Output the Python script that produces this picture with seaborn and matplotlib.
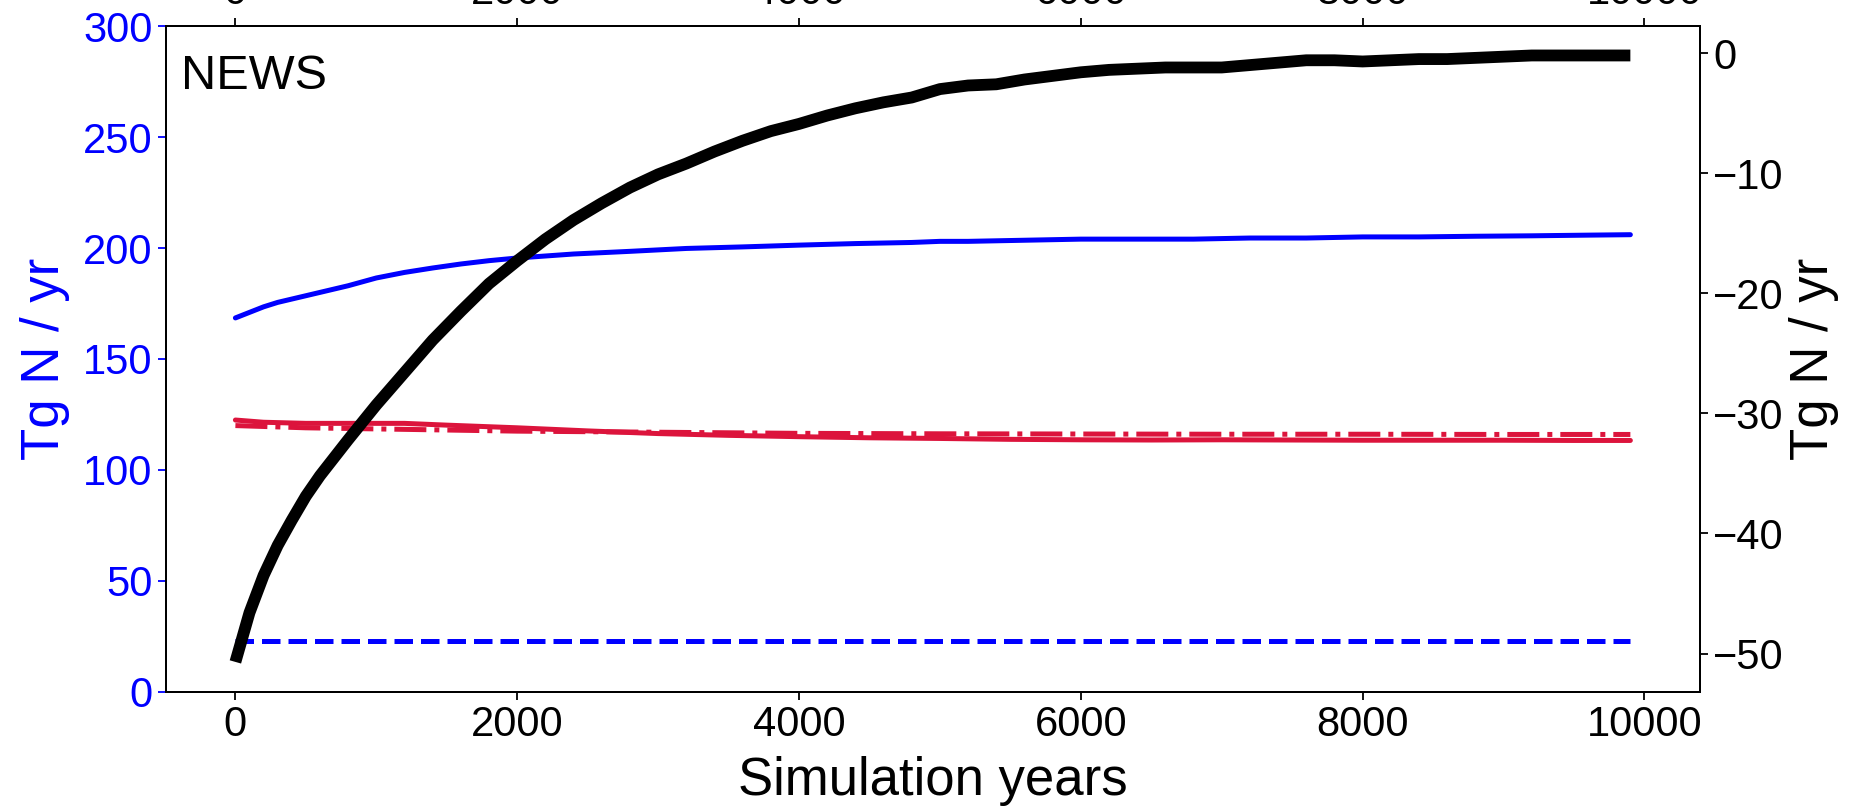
import matplotlib
matplotlib.use("Agg")
import matplotlib.pyplot as plt
import numpy as np
import pandas as pd
import seaborn as sns

# blue solid, left axis
blue_years = [0, 100, 200, 300, 400, 600, 800, 1000, 1200, 1400, 1600, 1800, 2000, 2400, 2800,
              3200, 3600, 4000, 4400, 4800, 5000, 5200, 5600, 6000, 6400, 6800, 7200, 7600,
              8000, 8400, 8800, 9200, 9600, 9900]
blue_vals = [168.5, 171, 173.5, 175.5, 177, 180, 183, 186.5, 189, 191, 192.8, 194.3, 195.5, 197.3, 198.5,
             199.8, 200.5, 201.3, 202, 202.5, 203, 203, 203.5, 204, 204, 204, 204.5, 204.5,
             205, 205, 205.3, 205.5, 205.8, 206]

# blue dashed, left axis
dash_years = [0, 9900]
dash_vals = [22.8, 22.8]

# red solid, left axis
red_years = [0, 200, 500, 1000, 1200, 1500, 2000, 2500, 3000, 3500, 4000, 4500, 5000, 5500,
             6000, 6500, 7000, 7500, 8000, 8500, 9000, 9500, 9900]
red_vals = [122.5, 121.5, 121, 121, 121, 120.2, 119, 117.6, 116.4, 115.6, 115, 114.5, 114.2, 113.8,
            113.6, 113.5, 113.6, 113.5, 113.4, 113.4, 113.4, 113.3, 113.3]

# red dash-dot, left axis
rdd_years = [0, 500, 1000, 2000, 3000, 4000, 5000, 6000, 7000, 8000, 9000, 9900]
rdd_vals = [120, 119, 118.5, 117.5, 117, 116.5, 116.3, 116.2, 116.1, 116.1, 116, 116]

# black thick, right axis
blk_years = [0, 100, 200, 300, 400, 500, 600, 800, 1000, 1200, 1400, 1600, 1800, 2000, 2200,
             2400, 2600, 2800, 3000, 3200, 3400, 3600, 3800, 4000, 4200, 4400, 4600, 4800,
             5000, 5200, 5400, 5600, 5800, 6000, 6200, 6400, 6600, 6800, 7000, 7200, 7400,
             7600, 7800, 8000, 8200, 8400, 8600, 8800, 9000, 9200, 9400, 9600, 9900]
blk_vals = [-50.7, -46.6, -43.5, -41.0, -38.9, -36.9, -35.2, -32.2, -29.3, -26.6, -23.9, -21.5,
            -19.2, -17.3, -15.5, -13.9, -12.5, -11.2, -10.1, -9.2, -8.2, -7.3, -6.5, -5.9,
            -5.2, -4.6, -4.1, -3.7, -3.0, -2.7, -2.6, -2.2, -1.9, -1.6, -1.4, -1.3, -1.2,
            -1.2, -1.2, -1.0, -0.8, -0.6, -0.6, -0.7, -0.6, -0.5, -0.5, -0.4, -0.3, -0.2,
            -0.2, -0.2, -0.2]

sns.set_theme(style="ticks", rc={'text.color': 'black', 'axes.labelcolor': 'black',
                                 'xtick.color': 'black', 'ytick.color': 'black',
                                 'axes.edgecolor': 'black'})
plt.rcParams['font.family'] = ['Liberation Sans', 'DejaVu Sans']
plt.rcParams['axes.linewidth'] = 1.3

tickFs = 30
labelFs = 38

fig = plt.figure(figsize=(18.55, 8.09), dpi=100)
ax = fig.add_axes([0.0893, 0.1447, 0.8272, 0.8231])

lw = 3.6
sns.lineplot(x=blue_years, y=blue_vals, ax=ax, color='blue', lw=lw)
sns.lineplot(x=dash_years, y=dash_vals, ax=ax, color='blue', lw=lw, ls='--')
sns.lineplot(x=red_years, y=red_vals, ax=ax, color='crimson', lw=lw)
sns.lineplot(x=rdd_years, y=rdd_vals, ax=ax, color='crimson', lw=lw, ls='-.')
ax.set_ylim(0, 300)
ax.set_xlim(-495, 10395)
ax.set_ylabel('Tg N / yr', fontsize=labelFs, color='blue', labelpad=9)
ax.set_xlabel('Simulation years', fontsize=labelFs, labelpad=8)
ax.tick_params(axis='y', colors='blue', labelsize=tickFs, length=6, width=1.3)
ax.tick_params(axis='x', labelsize=tickFs, length=6, width=1.3, colors='black')
ax.spines['left'].set_color('black')
ax.text(0.01, 0.958, 'NEWS', transform=ax.transAxes, fontsize=35, ha='left', va='top',
        color='black')

ax2 = ax.twinx()
sns.lineplot(x=blk_years, y=blk_vals, ax=ax2, color='black', lw=8.5, solid_capstyle='butt')
ax2.set_ylim(-53.2, 2.25)
ax2.set_yticks([-50, -40, -30, -20, -10, 0])
ax2.set_ylabel('Tg N / yr', fontsize=labelFs, color='black')
ax2.tick_params(axis='y', labelsize=tickFs, length=6, width=1.3, colors='black')

ax3 = ax.twiny()
ax3.set_xlim(ax.get_xlim())
ax3.set_xticks([0, 2000, 4000, 6000, 8000, 10000])
ax3.tick_params(axis='x', labelsize=tickFs, length=6, width=1.3, colors='black')
ax3.yaxis.set_visible(False)

fig.savefig('out.png', dpi=100)
